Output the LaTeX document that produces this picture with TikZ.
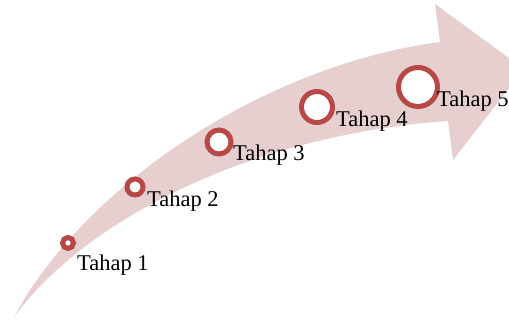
\documentclass[tikz,border=0pt]{standalone}
\usepackage{fontspec}
\setmainfont{Liberation Serif}
\definecolor{band}{RGB}{231,206,207}
\definecolor{ring}{RGB}{184,72,70}
\begin{document}
\begin{tikzpicture}[x=1pt,y=-1pt,
  stage/.style={circle, draw=ring, line width=5pt, fill=white, inner sep=0pt},
  lbl/.style={anchor=base west, inner sep=0pt, text=black, font=\fontsize{22.5}{27}\selectfont}]
\useasboundingbox (0,0) rectangle (509,320);
\clip (0,0) rectangle (509,320);
\fill[band] (14,317) .. controls (85,185) and (265,65) .. (440,42) -- (435,4) -- (524,69) -- (453,160) -- (448,121) .. controls (250,135) and (85,220) .. (14,317) -- cycle;
\node[stage, minimum size=11pt] (s1) at (68,243) {};
\node[stage, minimum size=16pt] (s2) at (135,187) {};
\node[stage, minimum size=24pt] (s3) at (219,142) {};
\node[stage, minimum size=31pt] (s4) at (317,107) {};
\node[stage, minimum size=39pt] (s5) at (418,87) {};
\node[lbl] (l1) at (77,271) {Tahap 1};
\node[lbl] (l2) at (147,207) {Tahap 2};
\node[lbl] (l3) at (233,161) {Tahap 3};
\node[lbl] (l4) at (336,127) {Tahap 4};
\node[lbl] (l5) at (437,107) {Tahap 5};
\end{tikzpicture}
\end{document}
